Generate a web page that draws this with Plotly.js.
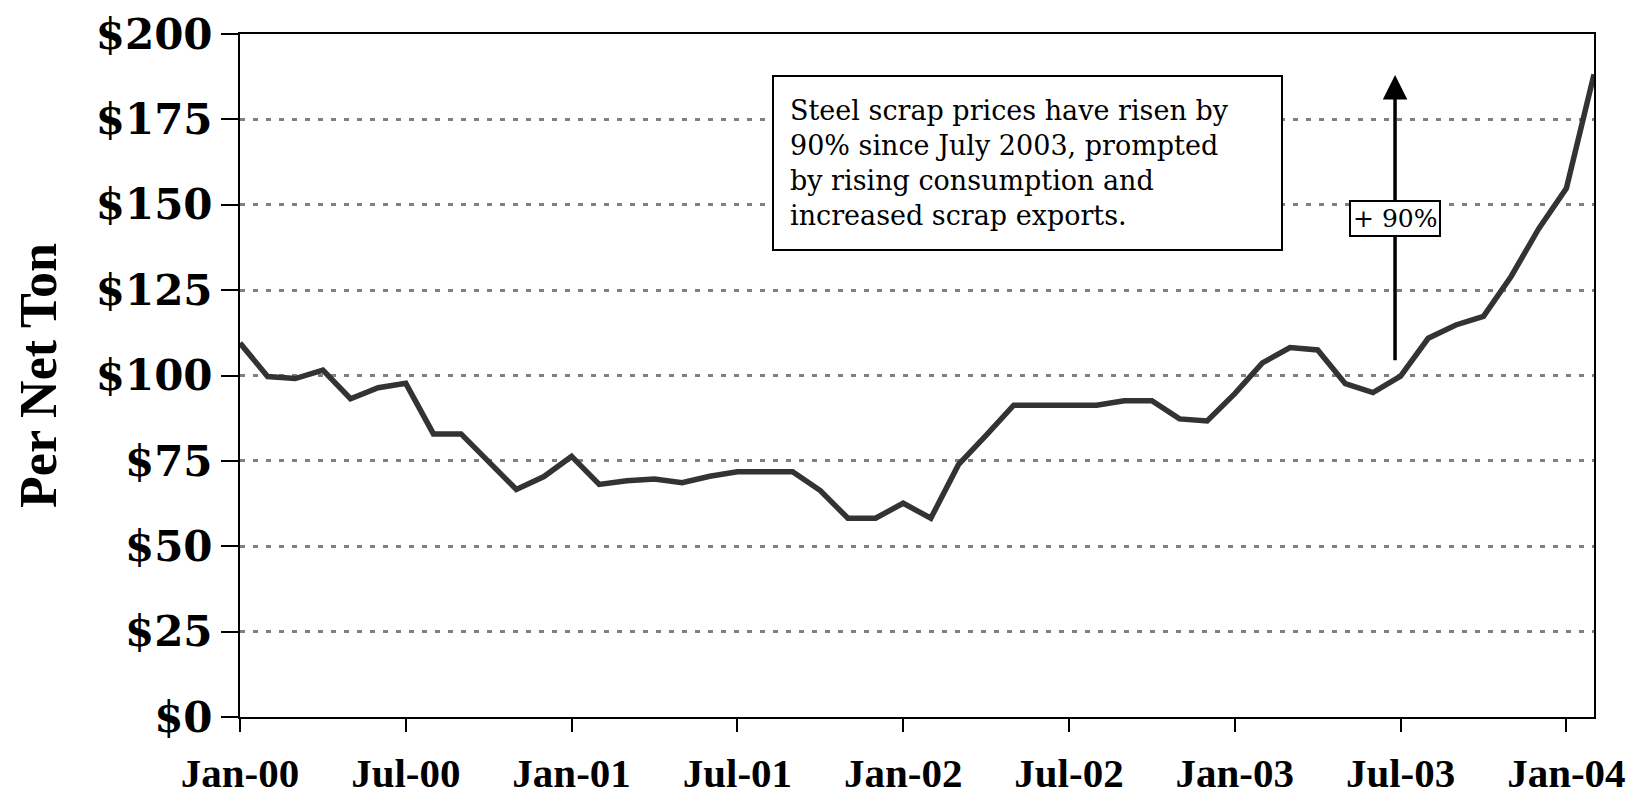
<!DOCTYPE html>
<html>
<head>
<meta charset="utf-8">
<script src="https://cdn.plot.ly/plotly-3.0.1.min.js"></script>
<style>
  html, body { margin: 0; padding: 0; background: #ffffff; }
  #chart { width: 1641px; height: 796px; }
</style>
</head>
<body>
<div id="chart"></div>
<script>
// Months (categories), Jan-2000 through Feb-2004
const months = [
  '2000-01','2000-02','2000-03','2000-04','2000-05','2000-06','2000-07','2000-08','2000-09','2000-10','2000-11','2000-12',
  '2001-01','2001-02','2001-03','2001-04','2001-05','2001-06','2001-07','2001-08','2001-09','2001-10','2001-11','2001-12',
  '2002-01','2002-02','2002-03','2002-04','2002-05','2002-06','2002-07','2002-08','2002-09','2002-10','2002-11','2002-12',
  '2003-01','2003-02','2003-03','2003-04','2003-05','2003-06','2003-07','2003-08','2003-09','2003-10','2003-11','2003-12',
  '2004-01','2004-02'
];

// Steel scrap price, $ per net ton
const scrapPrice = [
  109.5, 99.7, 99.1, 101.6, 93.2, 96.4, 97.7, 82.9, 82.9, 75.0, 66.6, 70.4,
  76.3, 68.1, 69.2, 69.7, 68.6, 70.5, 71.8, 71.8, 71.8, 66.3, 58.2, 58.2,
  62.6, 58.2, 73.9, 82.5, 91.3, 91.3, 91.3, 91.3, 92.6, 92.6, 87.3, 86.7,
  94.7, 103.7, 108.2, 107.5, 97.6, 95.0, 99.8, 110.9, 114.8, 117.3, 129.0, 143.0,
  154.8, 188.2
];

// X tick positions and labels
const xTickVals = ['2000-01','2000-07','2001-01','2001-07','2002-01','2002-07','2003-01','2003-07','2004-01'];
const xTickText = ['Jan-00','Jul-00','Jan-01','Jul-01','Jan-02','Jul-02','Jan-03','Jul-03','Jan-04'];

// Y ticks and labels
const yTickVals = [0, 25, 50, 75, 100, 125, 150, 175, 200];
const yTickText = ['$0', '$25', '$50', '$75', '$100', '$125', '$150', '$175', '$200'];

// Annotation texts
const noteText = 'Steel scrap prices have risen by<br>90% since July 2003, prompted<br>by rising consumption and<br>increased scrap exports.';
const riseLabel = '+ 90%';
const riseFrom = 104;
const riseTo = 188;

const trace = {
  type: 'scatter',
  mode: 'lines',
  x: months,
  y: scrapPrice,
  line: { color: '#333333', width: 5.5 },
  hoverinfo: 'x+y'
};

const layout = {
  width: 1641,
  height: 796,
  margin: { l: 240, r: 47, t: 34, b: 79 },
  paper_bgcolor: '#ffffff',
  plot_bgcolor: '#ffffff',
  showlegend: false,
  xaxis: {
    type: 'category',
    range: [0, 49],
    tickmode: 'array',
    tickvals: xTickVals,
    ticktext: xTickText,
    ticks: 'outside',
    ticklen: 13,
    tickwidth: 2,
    tickcolor: '#000000',
    showline: true,
    linecolor: '#000000',
    linewidth: 2,
    mirror: true,
    showgrid: false,
    zeroline: false,
    ticklabelstandoff: 6,
    tickfont: { family: 'Liberation Serif, serif', size: 41, color: '#000000', weight: 'bold' }
  },
  yaxis: {
    range: [0, 200],
    tickmode: 'array',
    tickvals: yTickVals,
    ticktext: yTickText,
    ticks: 'outside',
    ticklen: 17,
    tickwidth: 2,
    tickcolor: '#000000',
    showline: true,
    linecolor: '#000000',
    linewidth: 2,
    mirror: true,
    showgrid: true,
    gridcolor: '#808080',
    gridwidth: 2.5,
    griddash: '5px,8px',
    zeroline: false,
    tickfont: { family: 'DejaVu Serif, serif', size: 42, color: '#000000', weight: 'bold' },
    title: {
      text: 'Per Net Ton',
      font: { family: 'Liberation Serif, serif', size: 52, color: '#000000', weight: 'bold' },
      standoff: 22
    }
  },
  annotations: [
    {
      xref: 'paper', yref: 'paper',
      x: 0.5816, y: 0.811,
      xanchor: 'center', yanchor: 'middle',
      text: noteText,
      showarrow: false,
      align: 'left',
      width: 475,
      height: 140,
      borderpad: 16,
      bordercolor: '#000000',
      borderwidth: 2,
      bgcolor: '#ffffff',
      font: { family: 'DejaVu Serif, serif', size: 27, color: '#000000' }
    },
    {
      xref: 'x', yref: 'y', axref: 'x', ayref: 'y',
      x: 41.8, y: riseTo,
      ax: 41.8, ay: riseFrom,
      text: '',
      showarrow: true,
      arrowhead: 2,
      arrowsize: 1.4,
      arrowwidth: 3.5,
      arrowcolor: '#000000',
      standoff: 0,
      startstandoff: 0
    },
    {
      xref: 'x', yref: 'y',
      x: 41.8, y: 146,
      xanchor: 'center', yanchor: 'middle',
      text: riseLabel,
      showarrow: false,
      bgcolor: '#ffffff',
      bordercolor: '#000000',
      borderwidth: 2,
      borderpad: 2,
      font: { family: 'DejaVu Serif, serif', size: 25, color: '#000000' }
    }
  ]
};

Plotly.newPlot('chart', [trace], layout, { displayModeBar: false, responsive: false });
</script>
</body>
</html>
